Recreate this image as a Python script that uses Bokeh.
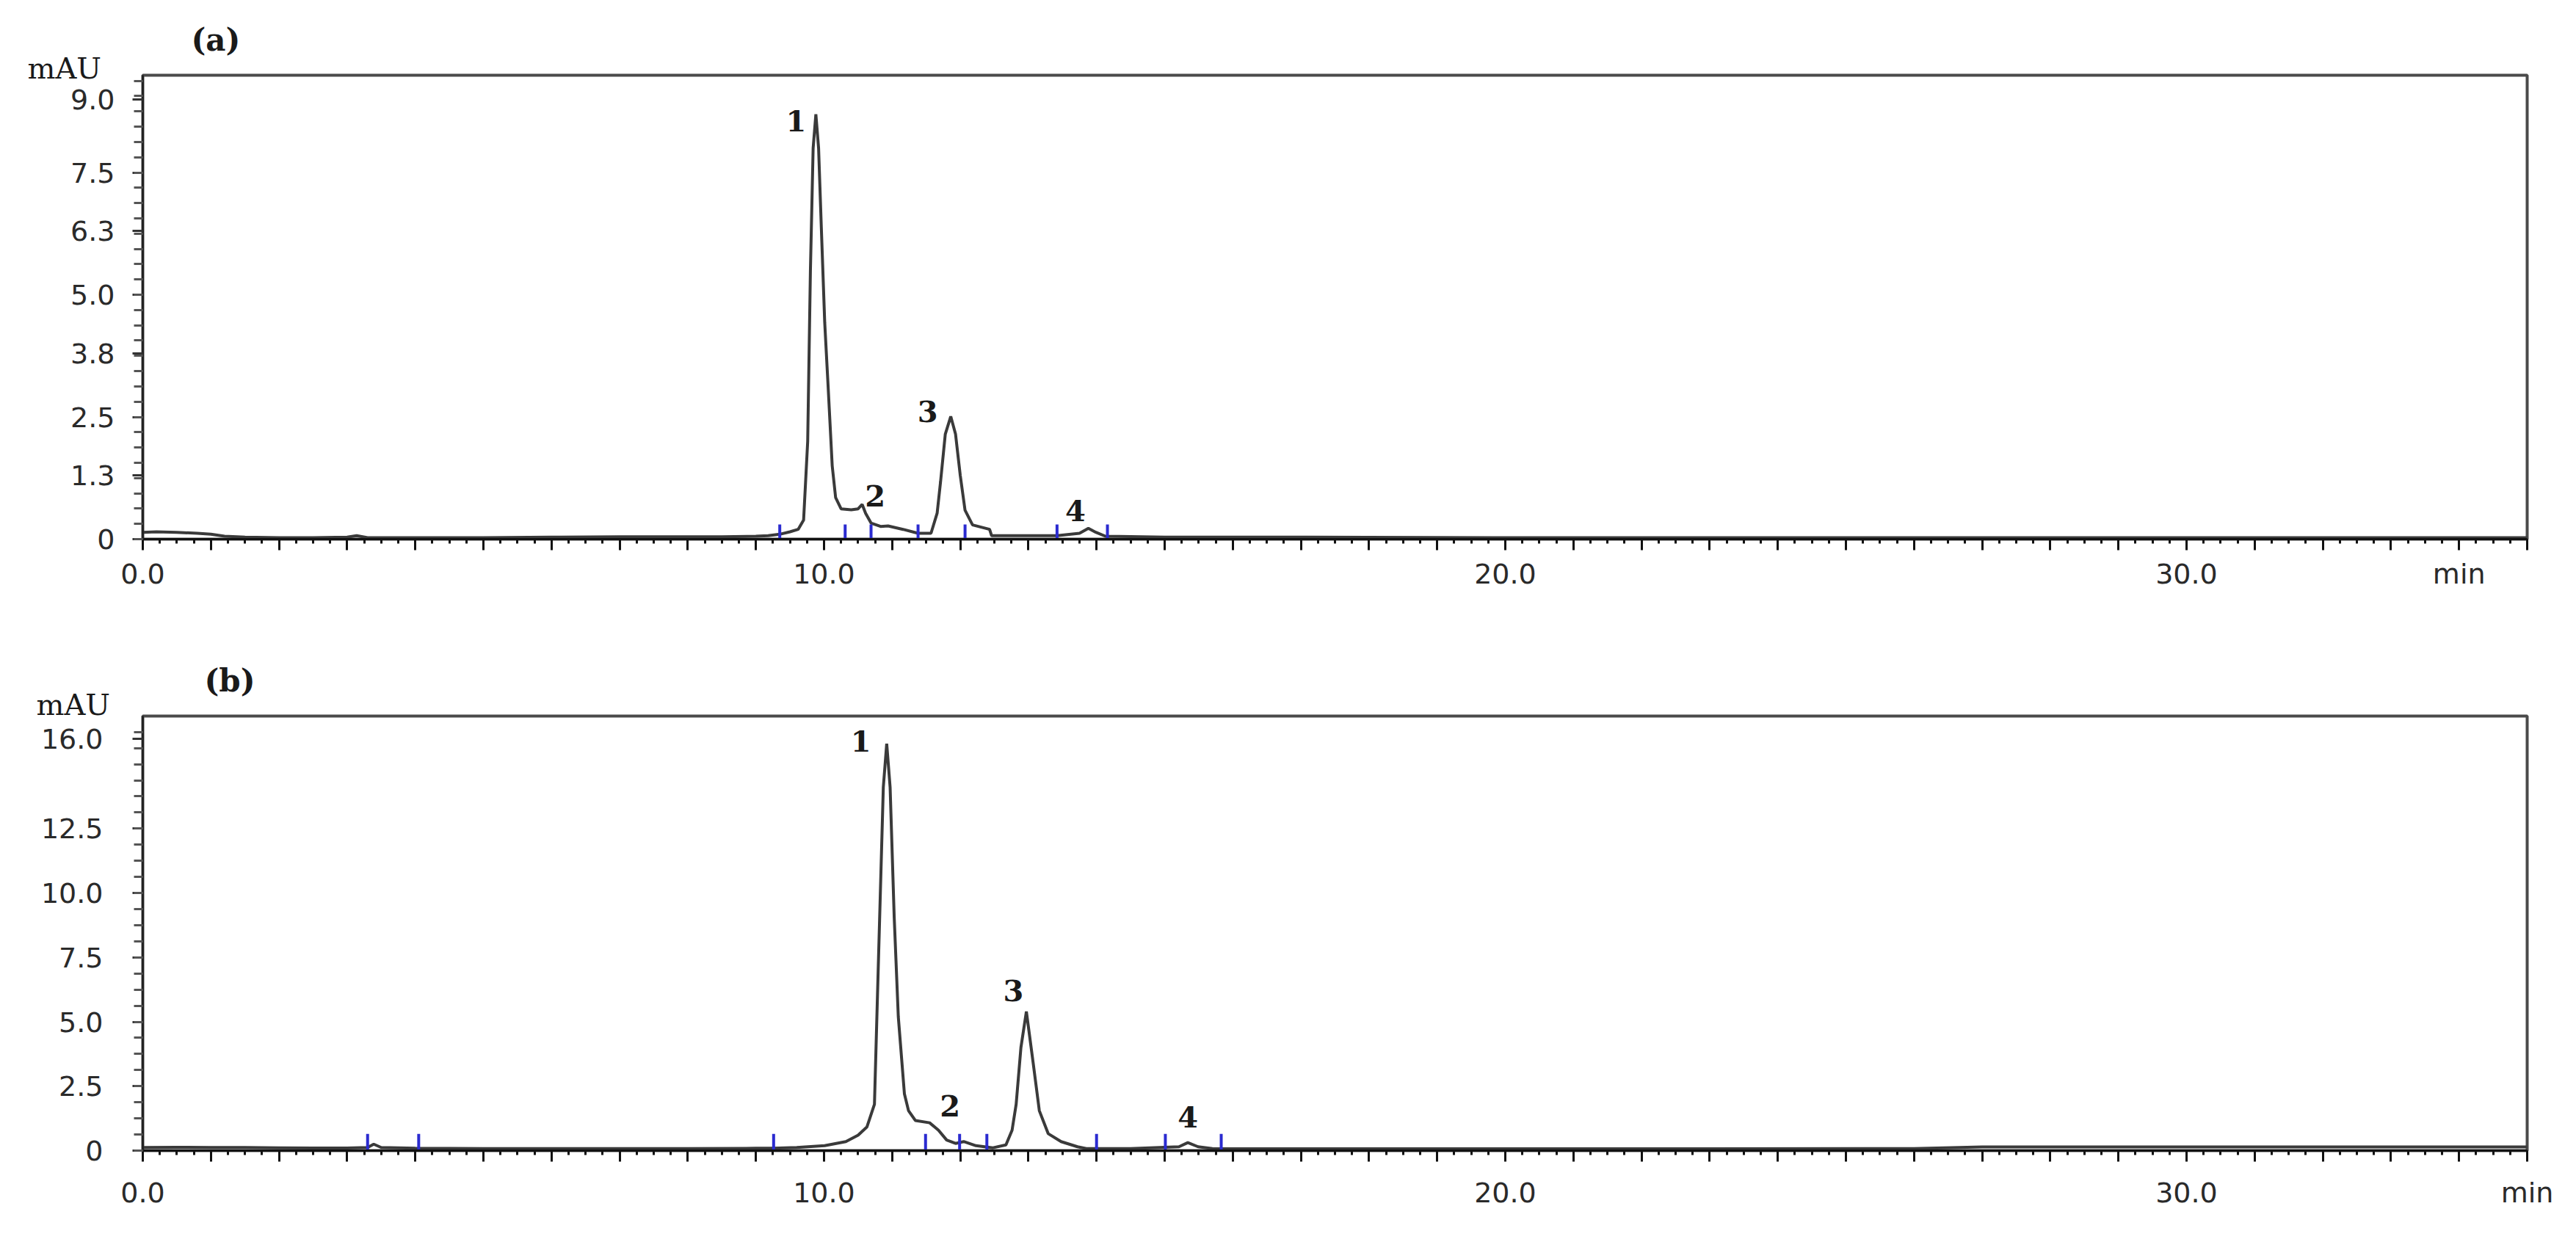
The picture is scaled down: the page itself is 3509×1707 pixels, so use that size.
from bokeh.plotting import figure
from bokeh.models import FixedTicker, Label, Range1d, Title
from bokeh.layouts import column
from bokeh.embed import file_html
from bokeh.resources import INLINE

# ---------------- data ----------------
time_a = [0.0, 0.2, 0.5, 0.8, 1.0, 1.2, 1.5, 2.0, 2.5, 3.0, 3.14, 3.3, 4.0, 5.0, 6.0, 7.0, 8.0, 8.5,
          9.0, 9.18, 9.35, 9.5, 9.62, 9.70, 9.76, 9.80, 9.84, 9.88, 9.92, 9.96, 10.01, 10.06, 10.12,
          10.17, 10.25, 10.40, 10.50, 10.56, 10.61, 10.69, 10.83, 10.94, 11.16, 11.38, 11.57, 11.66,
          11.71, 11.78, 11.86, 11.93, 12.00, 12.07, 12.18, 12.43, 12.46, 13.0, 13.42, 13.75, 13.88,
          13.99, 14.13, 15.0, 17.0, 20.0, 23.0, 26.0, 29.0, 32.0, 35.0]
mau_a = [0.14, 0.15, 0.14, 0.12, 0.10, 0.06, 0.04, 0.03, 0.03, 0.04, 0.07, 0.03, 0.03, 0.03, 0.04, 0.05, 0.05, 0.05,
         0.06, 0.07, 0.10, 0.15, 0.20, 0.39, 2.0, 5.5, 8.0, 8.69, 8.0, 6.38, 4.43, 3.12, 1.50,
         0.85, 0.62, 0.60, 0.62, 0.71, 0.53, 0.33, 0.26, 0.27, 0.20, 0.12, 0.12, 0.53,
         1.17, 2.15, 2.51, 2.15, 1.30, 0.59, 0.29, 0.20, 0.07, 0.07, 0.07, 0.12, 0.22,
         0.14, 0.06, 0.04, 0.04, 0.03, 0.03, 0.03, 0.03, 0.03, 0.03]

time_b = [0.0, 0.5, 1.0, 1.5, 2.0, 2.5, 3.0, 3.3, 3.39, 3.5, 4.0, 5.0, 6.0, 7.0, 8.0, 9.0, 9.26, 9.6,
          10.01, 10.32, 10.50, 10.63, 10.74, 10.80, 10.87, 10.92, 10.97, 11.03, 11.09, 11.18, 11.24,
          11.34, 11.55, 11.68, 11.80, 11.93, 12.05, 12.23, 12.48, 12.67, 12.76, 12.82, 12.89, 12.97,
          13.03, 13.07, 13.16, 13.29, 13.48, 13.72, 13.85, 14.5, 15.21, 15.34, 15.49, 15.7, 17.0,
          20.0, 23.0, 26.0, 27.0, 29.0, 32.0, 35.0]
mau_b = [0.12, 0.13, 0.12, 0.12, 0.11, 0.10, 0.10, 0.12, 0.25, 0.12, 0.09, 0.08, 0.08, 0.08, 0.08, 0.09, 0.09, 0.12,
         0.19, 0.35, 0.60, 0.92, 1.8, 7.5, 14.1, 15.8, 14.1, 9.06, 5.2, 2.2, 1.55,
         1.17, 1.08, 0.79, 0.41, 0.28, 0.35, 0.19, 0.11, 0.22, 0.79, 1.8, 4.0, 5.4,
         4.2, 3.4, 1.55, 0.66, 0.35, 0.15, 0.08, 0.08, 0.15, 0.31, 0.15, 0.08, 0.07,
         0.07, 0.07, 0.08, 0.14, 0.14, 0.14, 0.14]

# integration event marks (blue ticks)
event_time_a = [9.35, 10.31, 10.69, 11.38, 12.07, 13.42, 14.16]
event_time_b = [3.30, 4.05, 9.26, 11.49, 11.99, 12.39, 14.0, 15.01, 15.83]

# peak numbers and where they are written
peak_names = ["1", "2", "3", "4"]
peak_label_time_a = [9.59, 10.75, 11.52, 13.69]
peak_label_mau_a = [8.56, 0.89, 2.61, 0.59]
peak_label_time_b = [10.54, 11.85, 12.78, 15.34]
peak_label_mau_b = [15.9, 1.74, 6.2, 1.3]

# axis ticks ("min" is written on the time axis)
x_tick_labels_a = {0: "0.0", 10: "10.0", 20: "20.0", 30: "30.0", 34: "min"}
x_tick_labels_b = {0: "0.0", 10: "10.0", 20: "20.0", 30: "30.0", 35: "min"}
y_ticks_a = [0, 1.3, 2.5, 3.8, 5.0, 6.3, 7.5, 9.0]
y_tick_labels_a = ["0", "1.3", "2.5", "3.8", "5.0", "6.3", "7.5", "9.0"]
y_ticks_b = [0, 2.5, 5.0, 7.5, 10.0, 12.5, 16.0]
y_tick_labels_b = ["0", "2.5", "5.0", "7.5", "10.0", "12.5", "16.0"]

assert len(time_a) == len(mau_a) and len(time_b) == len(mau_b)

SANS = "DejaVu Sans"
SERIF = "DejaVu Serif"
TRACE = "#3a3a3a"
BLUE = "#2b2bd0"


def make_panel(times, vals, ymax, yticks, ylabels, yminor, xlabels, events, ev_lo, ev_hi,
               ptimes, pvals, tag, tag_offset, tag_standoff, mau_offset, mau_standoff,
               border_top, frame_h, border_bottom, ylab_standoff, xlab_standoff):
    p = figure(output_backend="svg", toolbar_location=None,
               frame_width=3248, frame_height=frame_h,
               x_range=Range1d(0, 35), y_range=Range1d(0, ymax),
               min_border_left=194, min_border_right=51,
               min_border_top=border_top, min_border_bottom=border_bottom,
               background_fill_color="white", border_fill_color="white")
    p.grid.visible = False
    p.outline_line_color = "#4a4a4a"
    p.outline_line_width = 4

    # x axis
    xa = p.xaxis[0]
    major = list(range(0, 36))
    minor = [m / 4 for m in range(0, 141)]
    xa.ticker = FixedTicker(ticks=major, minor_ticks=minor)
    xa.major_label_overrides = {float(t): xlabels.get(t, "") for t in major}
    xa.axis_line_color = "#111111"
    xa.axis_line_width = 3
    xa.major_tick_line_color = "#111111"
    xa.major_tick_line_width = 3
    xa.major_tick_out = 15
    xa.major_tick_in = 0
    xa.minor_tick_line_color = "#111111"
    xa.minor_tick_line_width = 3
    xa.minor_tick_out = 6
    xa.minor_tick_in = 0
    xa.major_label_text_font = SANS
    xa.major_label_text_font_size = "38px"
    xa.major_label_text_color = "#2a2a2a"
    xa.major_label_standoff = xlab_standoff

    # y axis
    ya = p.yaxis[0]
    ya.ticker = FixedTicker(ticks=yticks, minor_ticks=yminor)
    ya.major_label_overrides = {float(t): s for t, s in zip(yticks, ylabels)}
    ya.axis_line_color = "#222222"
    ya.axis_line_width = 3
    ya.major_tick_line_color = "#333333"
    ya.major_tick_line_width = 3
    ya.major_tick_out = 14
    ya.major_tick_in = 0
    ya.minor_tick_line_color = "#555555"
    ya.minor_tick_line_width = 3
    ya.minor_tick_out = 12
    ya.minor_tick_in = 0
    ya.major_label_text_font = SANS
    ya.major_label_text_font_size = "38px"
    ya.major_label_text_color = "#2a2a2a"
    ya.major_label_standoff = ylab_standoff

    # trace
    p.line(times, vals, line_color=TRACE, line_width=4)

    # integration events
    p.segment(x0=events, x1=events, y0=[ev_lo] * len(events), y1=[ev_hi] * len(events),
              line_color=BLUE, line_width=4)

    # peak numbers
    for name, t, v in zip(peak_names, ptimes, pvals):
        p.add_layout(Label(x=t, y=v, text=name, text_font=SERIF, text_font_style="bold",
                           text_font_size="40px", text_align="center", text_baseline="middle",
                           text_color="#1a1a1a"))

    # unit (closest to the frame) and panel tag above it
    p.add_layout(Title(text="mAU", align="left", offset=mau_offset, standoff=mau_standoff,
                       text_font=SERIF, text_font_size="40px", text_font_style="normal",
                       text_color="#1a1a1a"), "above")
    p.add_layout(Title(text=tag, align="left", offset=tag_offset, standoff=tag_standoff,
                       text_font=SERIF, text_font_size="42px", text_font_style="bold",
                       text_color="#1a1a1a"), "above")
    return p


minor_a = [m * 0.3125 for m in range(0, 31)]
minor_b = [m * 0.625 for m in range(0, 27)]

pa = make_panel(time_a, mau_a, 9.49, y_ticks_a, y_tick_labels_a, minor_a, x_tick_labels_a,
                event_time_a, -0.05, 0.30,
                peak_label_time_a, peak_label_mau_a, "(a)", 66, 4, -157, -26,
                border_top=102, frame_h=632, border_bottom=148, ylab_standoff=24, xlab_standoff=10)
pb = make_panel(time_b, mau_b, 16.87, y_ticks_b, y_tick_labels_b, minor_b, x_tick_labels_b,
                event_time_b, -0.15, 0.65,
                peak_label_time_b, peak_label_mau_b, "(b)", 84, -20, -145, -14,
                border_top=93, frame_h=592, border_bottom=125, ylab_standoff=40, xlab_standoff=20)

layout = column(pa, pb, spacing=0)
open("out.html", "w").write(file_html(layout, INLINE))
